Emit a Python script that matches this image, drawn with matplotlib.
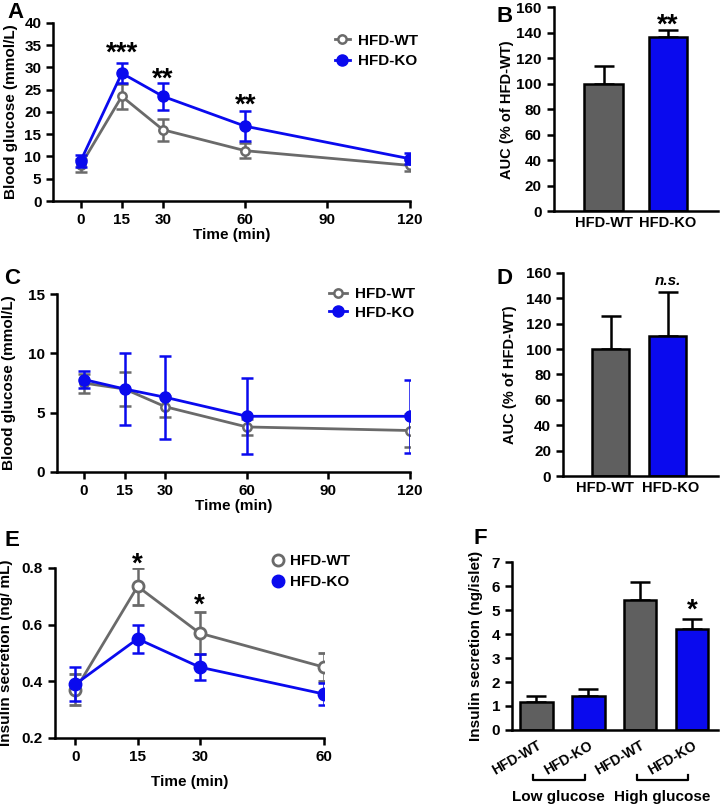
import numpy as np
import matplotlib.pyplot as plt
import matplotlib.transforms as mtransforms
from matplotlib.lines import Line2D

plt.rcParams['font.family'] = ['Liberation Sans', 'DejaVu Sans']
plt.rcParams['font.weight'] = 'bold'
plt.rcParams['axes.labelweight'] = 'bold'
plt.rcParams['axes.linewidth'] = 1.8
plt.rcParams['xtick.major.width'] = 1.8
plt.rcParams['ytick.major.width'] = 1.8
plt.rcParams['xtick.major.size'] = 5
plt.rcParams['ytick.major.size'] = 5

GRAY = "#6a6a6a"
BAR_GRAY = "#5f5f5f"
BLUE = "#0a0aee"
FS = 11

# ── data ────────────────────────────────────────────────────────────────────
# A: glucose tolerance
time_a = [0, 15, 30, 60, 120]
gtt_wt = [8.0, 23.5, 16.0, 11.3, 8.0]
gtt_wt_err = [1.5, 2.8, 2.5, 1.7, 1.3]
gtt_ko = [9.0, 28.7, 23.5, 16.8, 9.5]
gtt_ko_err = [1.3, 2.3, 3.1, 3.4, 1.2]
gtt_stars = ["***", "**", "**"]
gtt_star_x = [15, 30, 60]
gtt_star_y = [31.5, 25.8, 19.8]

# B: GTT AUC
groups = ["HFD-WT", "HFD-KO"]
auc_b = [100, 137]
auc_b_err = [14, 5]

# C: insulin tolerance
time_c = [0, 15, 30, 60, 120]
itt_wt = [7.5, 7.0, 5.5, 3.8, 3.5]
itt_wt_err = [0.8, 1.45, 0.9, 0.7, 1.4]
itt_ko = [7.8, 7.0, 6.3, 4.7, 4.7]
itt_ko_err = [0.7, 3.0, 3.5, 3.2, 3.1]

# D: ITT AUC
auc_d = [100, 110]
auc_d_err = [26, 35]

# E: insulin secretion in vivo
time_e = [0, 15, 30, 60]
ins_wt = [0.37, 0.735, 0.57, 0.45]
ins_wt_err = [0.055, 0.065, 0.075, 0.05]
ins_ko = [0.39, 0.55, 0.45, 0.355]
ins_ko_err = [0.06, 0.05, 0.045, 0.04]
ins_star_x = [15, 30]
ins_star_y = [0.786, 0.641]

# F: islet insulin secretion
f_labels = ["HFD-WT", "HFD-KO", "HFD-WT", "HFD-KO"]
f_vals = [1.15, 1.4, 5.4, 4.22]
f_err = [0.25, 0.3, 0.75, 0.4]
f_conditions = ["Low glucose", "High glucose"]

fig = plt.figure(figsize=(7.2, 8.06), dpi=100)


def style(ax):
    for s in ["top", "right"]:
        ax.spines[s].set_visible(False)
    ax.tick_params(labelsize=FS, direction="out")
    for lab in ax.get_xticklabels() + ax.get_yticklabels():
        lab.set_fontweight("bold")


def line_panel(ax, t, wt, wte, ko, koe, ms_wt=6, ms_ko=8, lw=2):
    ax.errorbar(t, wt, yerr=wte, color=GRAY, marker="o", mfc="white", mec=GRAY,
                mew=1.8, ms=ms_wt, lw=lw, capsize=4, capthick=1.8, elinewidth=1.8, zorder=3)
    ax.errorbar(t, ko, yerr=koe, color=BLUE, marker="o", mfc=BLUE, mec=BLUE,
                ms=ms_ko, lw=lw, capsize=4, capthick=1.8, elinewidth=1.8, zorder=4)
    handles = [Line2D([], [], color=GRAY, marker="o", mfc="white", mec=GRAY, mew=1.8,
                      ms=ms_wt, lw=lw),
               Line2D([], [], color=BLUE, marker="o", mfc=BLUE, mec=BLUE, ms=ms_ko, lw=lw)]
    return handles


def bar_panel(ax, vals, errs, colors, width):
    x = np.arange(len(vals))
    ax.bar(x, vals, width=width, color=colors, edgecolor="black", linewidth=1.8, zorder=2)
    ax.errorbar(x, vals, yerr=[np.zeros(len(errs)), errs], fmt="none", ecolor="black",
                elinewidth=1.8, capsize=7, capthick=1.8, zorder=1)
    return x


# ── A ──
axA = fig.add_axes([0.074, 0.7506, 0.495, 0.221])
h = line_panel(axA, time_a, gtt_wt, gtt_wt_err, gtt_ko, gtt_ko_err)
axA.set_xlim(-10, 120)
axA.set_ylim(0, 40)
axA.set_xticks([0, 15, 30, 60, 90, 120])
axA.set_yticks(range(0, 41, 5))
axA.set_xlabel("Time (min)", fontsize=FS, labelpad=1)
axA.set_ylabel("Blood glucose (mmol/L)", fontsize=FS, labelpad=5)
for s, x, y in zip(gtt_stars, gtt_star_x, gtt_star_y):
    axA.text(x, y, s, ha="center", va="baseline", fontsize=20, fontweight="bold")
axA.legend(h, groups, loc="upper left", bbox_to_anchor=(0.79, 0.94), frameon=False,
           fontsize=FS, handlelength=1.0, handletextpad=0.5, labelspacing=0.45,
           borderpad=0, borderaxespad=0)
style(axA)

# ── B ──
axB = fig.add_axes([0.769, 0.738, 0.228, 0.253])
bar_panel(axB, auc_b, auc_b_err, [BAR_GRAY, BLUE], 0.6)
axB.set_xlim(-0.78, 1.78)
axB.set_ylim(0, 160)
axB.set_yticks(range(0, 161, 20))
axB.set_xticks([0, 1])
axB.set_xticklabels(groups)
axB.tick_params(axis="x", length=0)
axB.set_ylabel("AUC (% of HFD-WT)", fontsize=10.5, labelpad=2)
axB.text(1, 140, "**", ha="center", va="baseline", fontsize=20, fontweight="bold")
style(axB)
for lab in axB.get_xticklabels():
    lab.set_fontsize(10.5)

# ── C ──
axC = fig.add_axes([0.079, 0.4144, 0.49, 0.2206])
h = line_panel(axC, time_c, itt_wt, itt_wt_err, itt_ko, itt_ko_err)
axC.set_xlim(-10, 120)
axC.set_ylim(0, 15)
axC.set_xticks([0, 15, 30, 60, 90, 120])
axC.set_yticks([0, 5, 10, 15])
axC.set_xlabel("Time (min)", fontsize=FS, labelpad=1)
axC.set_ylabel("Blood glucose (mmol/L)", fontsize=FS, labelpad=9)
axC.legend(h, groups, loc="upper left", bbox_to_anchor=(0.77, 1.04), frameon=False,
           fontsize=FS, handlelength=1.2, handletextpad=0.5, labelspacing=0.3,
           borderpad=0, borderaxespad=0)
style(axC)

# ── D ──
axD = fig.add_axes([0.782, 0.4094, 0.215, 0.252])
bar_panel(axD, auc_d, auc_d_err, [BAR_GRAY, BLUE], 0.65)
axD.set_xlim(-0.84, 1.88)
axD.set_ylim(0, 160)
axD.set_yticks(range(0, 161, 20))
axD.set_xticks([-0.1, 1.05])
axD.set_xticklabels(groups)
axD.tick_params(axis="x", length=0)
axD.set_ylabel("AUC (% of HFD-WT)", fontsize=10.5, labelpad=6)
axD.text(1, 150.5, "n.s.", ha="center", va="baseline", fontsize=FS,
         fontweight="bold", style="italic")
style(axD)
for lab in axD.get_xticklabels():
    lab.set_fontsize(10.5)

# ── E ──
axE = fig.add_axes([0.076, 0.0844, 0.374, 0.2109])
axE.errorbar(time_e, ins_wt, yerr=ins_wt_err, color=GRAY, marker="o", mfc="white", mec=GRAY,
             mew=2, ms=8, lw=2, capsize=4, capthick=1.8, elinewidth=1.8, zorder=3)
axE.errorbar(time_e, ins_ko, yerr=ins_ko_err, color=BLUE, marker="o", mfc=BLUE, mec=BLUE,
             ms=9, lw=2, capsize=4, capthick=1.8, elinewidth=1.8, zorder=4)
hE = [Line2D([], [], ls="none", marker="o", mfc="white", mec=GRAY, mew=2, ms=8),
      Line2D([], [], ls="none", marker="o", mfc=BLUE, mec=BLUE, ms=9)]
axE.set_xlim(-5, 60)
axE.set_ylim(0.2, 0.8)
axE.set_xticks(time_e)
axE.set_yticks([0.2, 0.4, 0.6, 0.8])
axE.set_xlabel("Time (min)", fontsize=FS, labelpad=8)
axE.set_ylabel("Insulin secretion (ng/ mL)", fontsize=FS, labelpad=6)
for x, y in zip(ins_star_x, ins_star_y):
    axE.text(x, y, "*", ha="center", va="baseline", fontsize=20, fontweight="bold")
axE.legend(hE, groups, loc="upper left", bbox_to_anchor=(0.805, 1.08), frameon=False,
           fontsize=FS, handlelength=0.8, handletextpad=0.4, labelspacing=0.45,
           borderpad=0, borderaxespad=0)
style(axE)

# ── F ──
axF = fig.add_axes([0.711, 0.0943, 0.286, 0.2084])
xf = bar_panel(axF, f_vals, f_err, [BAR_GRAY, BLUE, BAR_GRAY, BLUE], 0.63)
axF.set_xlim(-0.47, 3.5)
axF.set_ylim(0, 7)
axF.set_yticks(range(0, 8))
axF.set_xticks(xf)
axF.set_xticklabels(f_labels, rotation=30, ha="right", rotation_mode="anchor")
axF.tick_params(axis="x", length=0, pad=6)
axF.set_ylabel("Insulin secretion (ng/islet)", fontsize=FS, labelpad=6)
axF.text(3, 4.67, "*", ha="center", va="baseline", fontsize=20, fontweight="bold")
style(axF)
for lab in axF.get_xticklabels():
    lab.set_fontsize(10)
trans = mtransforms.blended_transform_factory(axF.transData, axF.transAxes)
for i, cond in enumerate(f_conditions):
    x0, x1 = xf[2 * i] - 0.06, xf[2 * i + 1] - 0.07
    axF.plot([x0, x0, x1, x1], [-0.265, -0.3, -0.3, -0.265], color="black", lw=1.6,
             transform=trans, clip_on=False)
    axF.text((x0 + x1) / 2, -0.4, cond, ha="center", va="center",
             fontsize=FS, fontweight="bold", transform=trans)

# panel letters
for letter, x, y in [("A", 0.010, 0.997), ("B", 0.690, 0.993), ("C", 0.006, 0.668),
                     ("D", 0.690, 0.668), ("E", 0.006, 0.343), ("F", 0.657, 0.345)]:
    fig.text(x, y, letter, fontsize=16, fontweight="bold", va="top")

fig.savefig("out.png", dpi=100)
